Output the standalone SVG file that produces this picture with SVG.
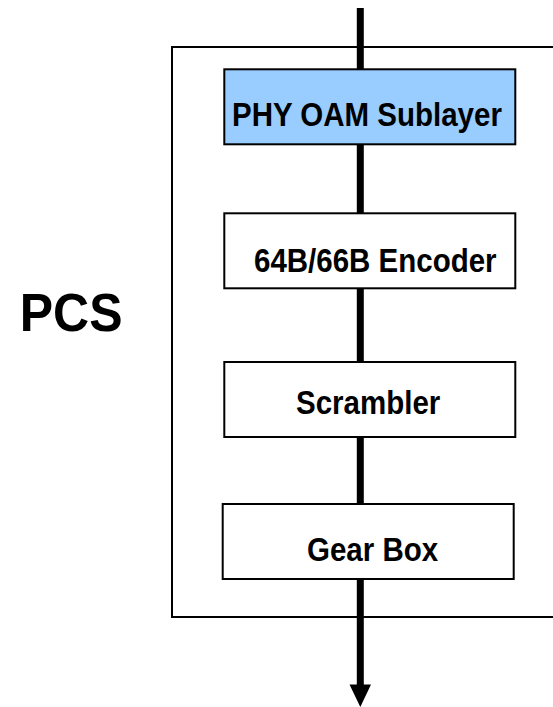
<svg xmlns="http://www.w3.org/2000/svg" width="553" height="707" viewBox="0 0 553 707">
  <style>
    .frame { fill: none; stroke: #000; stroke-width: 2; }
    .box { fill: #fff; stroke: #000; stroke-width: 2; }
    .box.oam { fill: #99ccff; }
    .label { font-family: "Liberation Sans", Arial, sans-serif; font-weight: bold; font-size: 29.5px; fill: #000; }
    .flow { stroke: #000; stroke-width: 7; fill: none; }
  </style>
  <rect width="553" height="707" fill="#fff"/>

  <!-- PCS layer frame (open to the right edge) -->
  <rect id="pcs-frame" class="frame" x="172" y="47" width="400" height="570"/>

  <!-- data path through the sublayers -->
  <g id="connectors">
    <line class="flow" x1="360.3" y1="8" x2="360.3" y2="686"/>
    <polygon points="349.5,684.5 371,684.5 360.3,707" fill="#000"/>
  </g>

  <g id="pcs-label">
    <text class="label" transform="translate(19.7,330.5) scale(1,1.09)" style="font-size:50px">PCS</text>
  </g>

  <g id="phy-oam">
    <rect class="box oam" x="224.3" y="69.3" width="291" height="75"/>
    <text class="label" transform="translate(232,125.5) scale(1,1.1)">PHY OAM Sublayer</text>
  </g>

  <g id="encoder">
    <rect class="box" x="224.3" y="213.3" width="291" height="75"/>
    <text class="label" transform="translate(254,272) scale(1,1.1)">64B/66B Encoder</text>
  </g>

  <g id="scrambler">
    <rect class="box" x="224.3" y="362" width="291" height="75"/>
    <text class="label" transform="translate(296,414) scale(1,1.1)">Scrambler</text>
  </g>

  <g id="gearbox">
    <rect class="box" x="222.7" y="504" width="291" height="75"/>
    <text class="label" transform="translate(307,560.5) scale(1,1.1)">Gear Box</text>
  </g>
</svg>
